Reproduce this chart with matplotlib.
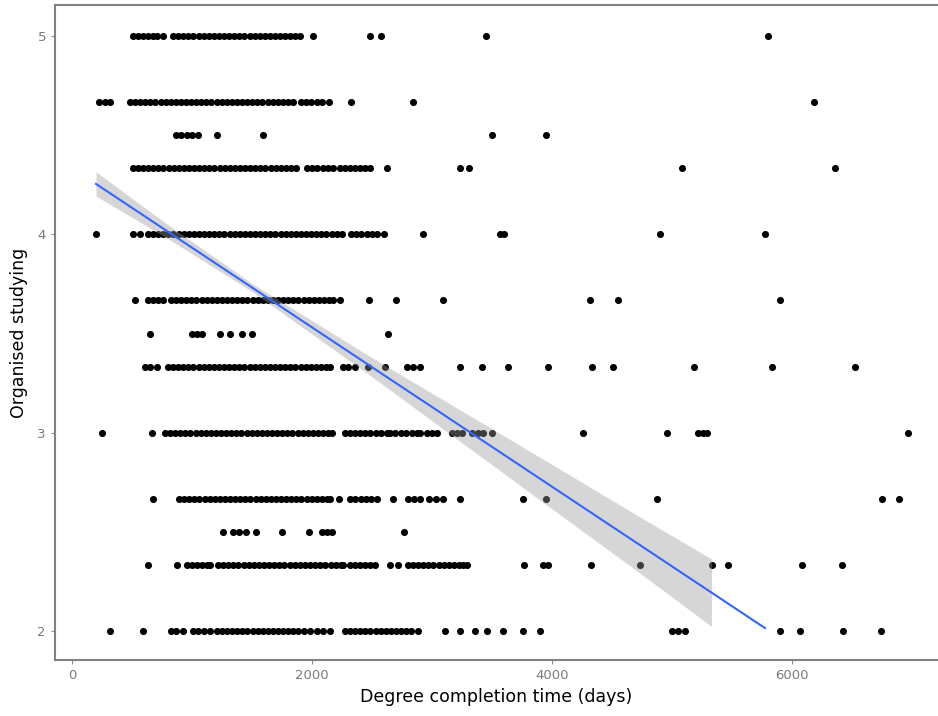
import matplotlib
matplotlib.use("Agg")
import matplotlib.pyplot as plt

# ---------------------------------------------------------------------------
# Data
# ---------------------------------------------------------------------------
levels = [5, 14 / 3, 4.5, 13 / 3, 4, 11 / 3, 3.5, 10 / 3, 3, 8 / 3, 2.5, 7 / 3, 2]

lvl_5 = [508, 550, 592, 635, 677, 708, 758, 842, 885, 928, 970, 1012, 1055,
         1098, 1140, 1183, 1225, 1268, 1310, 1352, 1395, 1437, 1480, 1522,
         1565, 1607, 1650, 1692, 1735, 1777, 1820, 1862, 1900, 2008, 2483,
         2575, 3450, 5800]
lvl_467 = [225, 275, 318, 483, 525, 568, 610, 653, 695, 738, 780, 822, 865,
           907, 950, 992, 1035, 1077, 1120, 1162, 1205, 1247, 1290, 1332,
           1375, 1417, 1460, 1502, 1545, 1587, 1630, 1672, 1715, 1757, 1800,
           1842, 1908, 1950, 1995, 2040, 2083, 2142, 2325, 2842, 6183]
lvl_45 = [867, 910, 955, 1000, 1050, 1208, 1592, 3500, 3950]
lvl_433 = [508, 550, 592, 635, 677, 720, 762, 805, 847, 890, 932, 975, 1017,
           1060, 1102, 1145, 1187, 1230, 1272, 1315, 1357, 1400, 1442, 1485,
           1527, 1570, 1612, 1655, 1697, 1740, 1782, 1825, 1867, 1958, 2000,
           2045, 2090, 2135, 2175, 2233, 2275, 2318, 2358, 2400, 2440, 2483,
           2625, 3233, 3308, 5083, 6358]
lvl_4 = [200, 508, 567, 633, 675, 718, 760, 803, 845, 888, 930, 973, 1015,
         1058, 1100, 1143, 1185, 1228, 1270, 1313, 1355, 1398, 1440, 1483,
         1525, 1568, 1610, 1653, 1695, 1738, 1780, 1823, 1865, 1908, 1950,
         1993, 2035, 2078, 2120, 2163, 2205, 2250, 2325, 2368, 2410, 2455,
         2500, 2542, 2600, 2925, 3570, 3600, 4900, 5775]
lvl_367 = [525, 633, 675, 717, 758, 825, 867, 910, 952, 995, 1037, 1080,
           1122, 1165, 1207, 1250, 1292, 1335, 1377, 1420, 1462, 1505, 1547,
           1590, 1632, 1675, 1717, 1760, 1802, 1845, 1887, 1930, 1972, 2015,
           2057, 2100, 2140, 2175, 2233, 2475, 2700, 3092, 4317, 4550, 5900]
lvl_35 = [650, 1000, 1040, 1083, 1233, 1317, 1417, 1500, 2633]
lvl_333 = [608, 650, 708, 800, 842, 885, 927, 970, 1012, 1055, 1097, 1140,
           1182, 1225, 1267, 1310, 1352, 1395, 1437, 1480, 1522, 1565, 1607,
           1650, 1692, 1735, 1777, 1820, 1862, 1905, 1947, 1990, 2032, 2075,
           2117, 2150, 2258, 2300, 2358, 2467, 2608, 2792, 2840, 2900, 3233,
           3417, 3633, 3967, 4333, 4508, 5183, 5833, 6525]
lvl_3 = [250, 667, 775, 817, 860, 902, 945, 987, 1030, 1072, 1115, 1157,
         1200, 1242, 1285, 1327, 1370, 1412, 1455, 1497, 1540, 1582, 1625,
         1667, 1710, 1752, 1795, 1837, 1880, 1922, 1965, 2007, 2050, 2092,
         2135, 2167, 2275, 2320, 2360, 2400, 2442, 2485, 2530, 2575, 2625,
         2650, 2695, 2740, 2785, 2830, 2875, 2900, 2958, 3000, 3042, 3167,
         3210, 3250, 3333, 3380, 3425, 3500, 4258, 4958, 5217, 5258, 5292,
         6967]
lvl_267 = [675, 892, 935, 977, 1020, 1062, 1105, 1147, 1190, 1232, 1275,
           1317, 1360, 1402, 1445, 1487, 1530, 1572, 1615, 1657, 1700, 1742,
           1785, 1827, 1870, 1912, 1955, 1997, 2040, 2082, 2125, 2150, 2225,
           2317, 2360, 2405, 2450, 2495, 2542, 2675, 2800, 2850, 2900, 2975,
           3030, 3092, 3233, 3758, 3950, 4875, 6750, 6892]
lvl_25 = [1258, 1342, 1395, 1450, 1533, 1750, 1975, 2083, 2125, 2167, 2767]
lvl_233 = [633, 875, 958, 1000, 1040, 1083, 1125, 1150, 1217, 1260, 1302,
           1345, 1387, 1430, 1472, 1515, 1557, 1600, 1642, 1685, 1727, 1770,
           1817, 1858, 1900, 1942, 1985, 2027, 2070, 2112, 2155, 2197, 2240,
           2258, 2317, 2360, 2400, 2440, 2483, 2525, 2650, 2717, 2800, 2842,
           2885, 2927, 2970, 3012, 3055, 3097, 3140, 3182, 3225, 3260, 3292,
           3767, 3925, 3967, 4325, 4733, 5333, 5467, 6083, 6417]
lvl_2 = [317, 592, 825, 870, 925, 1008, 1050, 1100, 1150, 1208, 1250, 1292,
         1335, 1377, 1420, 1462, 1505, 1547, 1590, 1632, 1675, 1717, 1760,
         1802, 1845, 1887, 1930, 1983, 2042, 2095, 2150, 2275, 2317, 2360,
         2402, 2445, 2487, 2530, 2572, 2615, 2657, 2700, 2742, 2785, 2827,
         2883, 3108, 3233, 3358, 3458, 3592, 3758, 3900, 5000, 5050, 5108,
         5900, 6067, 6425, 6742]

level_points = [lvl_5, lvl_467, lvl_45, lvl_433, lvl_4, lvl_367, lvl_35,
                lvl_333, lvl_3, lvl_267, lvl_25, lvl_233, lvl_2]

# fitted line and its confidence band
fit_x = [200, 5775]
fit_y = [4.254, 2.015]
band_x = [200, 800, 1500, 2500, 3250, 4000, 4700, 5330]
band_lo = [4.193, 3.978, 3.712, 3.282, 2.949, 2.616, 2.307, 2.023]
band_hi = [4.315, 4.048, 3.752, 3.378, 3.109, 2.840, 2.587, 2.363]

x_ticks = [0, 2000, 4000, 6000]
y_ticks = [2, 3, 4, 5]

# ---------------------------------------------------------------------------
# Plot
# ---------------------------------------------------------------------------
fig = plt.figure(figsize=(9.38, 7.16), dpi=100)
ax = fig.add_axes([0.0586, 0.0782, 0.9414, 0.9148])

for lvl, xs in zip(levels, level_points):
    ax.scatter(xs, [lvl] * len(xs), s=26, color="black", linewidths=0,
               zorder=2)

ax.fill_between(band_x, band_lo, band_hi, color="#999999", alpha=0.4,
                linewidth=0, zorder=3)
ax.plot(fit_x, fit_y, color="#3366FF", lw=1.5, zorder=4)

ax.set_xlim(-142, 7217)
ax.set_ylim(1.854, 5.156)
ax.set_xticks(x_ticks)
ax.set_yticks(y_ticks)

for side in ["left", "top", "bottom"]:
    ax.spines[side].set_color("#808080")
    ax.spines[side].set_linewidth(1.5)
ax.spines["right"].set_visible(False)

ax.tick_params(colors="#8c8c8c", labelsize=9.5, length=3, width=0.8,
               labelcolor="#7a7a7a")

ax.set_xlabel("Degree completion time (days)", fontsize=12.5, color="black",
              labelpad=4)
ax.set_ylabel("Organised studying", fontsize=12.5, color="black",
              labelpad=7)

fig.savefig("out.png", dpi=100)
